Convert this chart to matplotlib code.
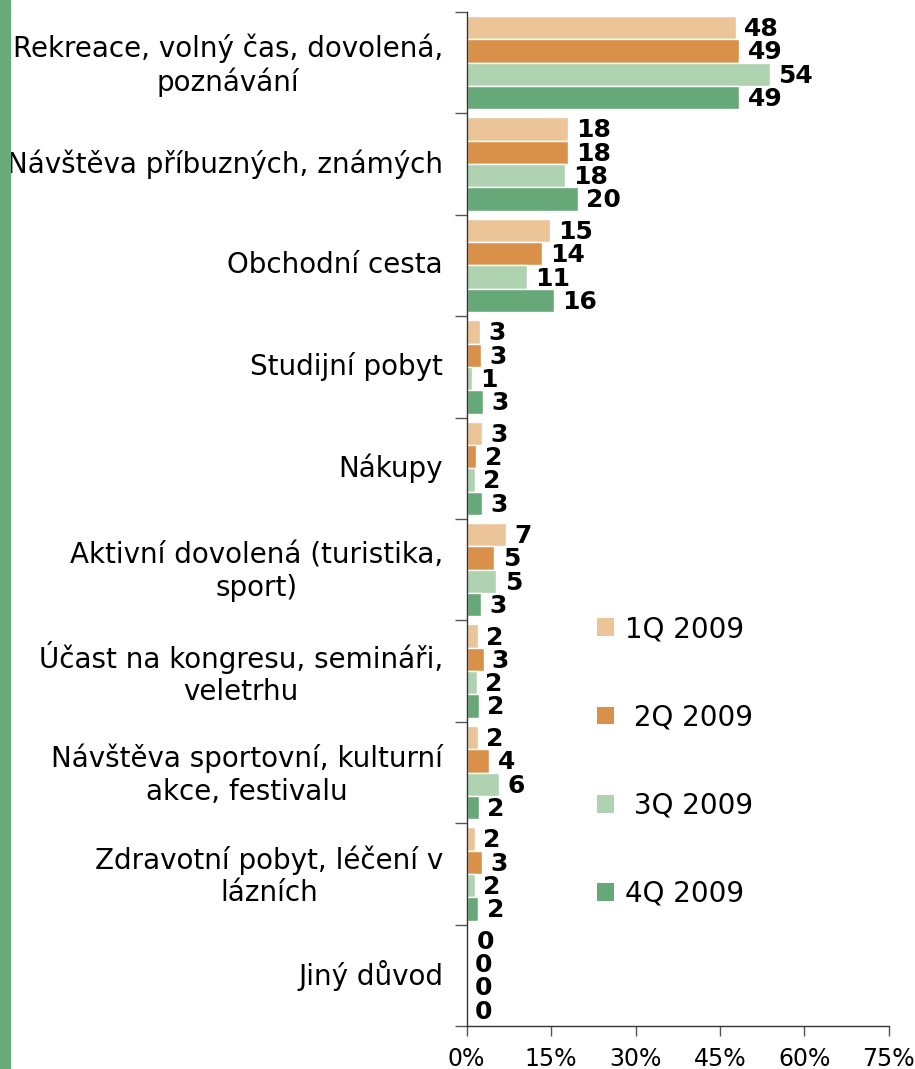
import matplotlib
matplotlib.use("Agg")
import matplotlib.pyplot as plt
import numpy as np
from matplotlib.patches import Rectangle, Patch

# categories and values (% of trips)
categories = [
    "Rekreace, volný čas, dovolená,\npoznávání",
    "Návštěva příbuzných, známých",
    "Obchodní cesta",
    "Studijní pobyt",
    "Nákupy",
    "Aktivní dovolená (turistika,\nsport)",
    "Účast na kongresu, semináři,\nveletrhu",
    "Návštěva sportovní, kulturní\nakce, festivalu",
    "Zdravotní pobyt, léčení v\nlázních",
    "Jiný důvod",
]
series_names = ["1Q 2009", " 2Q 2009", " 3Q 2009", "4Q 2009"]
q1 = [47.8, 18.0, 14.8, 2.4, 2.8, 7.0, 2.0, 2.0, 1.5, 0.3]
q2 = [48.4, 18.0, 13.4, 2.6, 1.7, 4.9, 3.0, 4.0, 2.8, 0.0]
q3 = [53.9, 17.4, 10.7, 0.9, 1.4, 5.3, 1.8, 5.7, 1.4, 0.0]
q4 = [48.4, 19.7, 15.5, 2.9, 2.8, 2.6, 2.2, 2.2, 2.1, 0.0]
q1_labels = [48, 18, 15, 3, 3, 7, 2, 2, 2, 0]
q2_labels = [49, 18, 14, 3, 2, 5, 3, 4, 3, 0]
q3_labels = [54, 18, 11, 1, 2, 5, 2, 6, 2, 0]
q4_labels = [49, 20, 16, 3, 3, 3, 2, 2, 2, 0]
xticks = [0, 15, 30, 45, 60, 75]

colors = ["#ebc598", "#d9914a", "#afd2b1", "#67a878"]

fig = plt.figure(figsize=(9.15, 10.69), dpi=100)
ax = fig.add_axes([0.510, 0.0402, 0.4615, 0.9486])

# green strip on the left edge
fig.patches.append(Rectangle((0, 0), 10 / 915, 1, transform=fig.transFigure,
                             color="#6aaa7a", zorder=0))

y = np.arange(len(categories))
h = 0.23
all_vals = [q1, q2, q3, q4]
all_labels = [q1_labels, q2_labels, q3_labels, q4_labels]
for i, (vals, labs) in enumerate(zip(all_vals, all_labels)):
    pos = y + (i - 1.5) * h
    ax.barh(pos, vals, height=h, color=colors[i], edgecolor="white",
            linewidth=1, label=series_names[i])
    for p, v, lab in zip(pos, vals, labs):
        ax.annotate(str(lab), (v, p), xytext=(6, -1), textcoords="offset points",
                    ha="left", va="center", fontsize=18, fontweight="bold",
                    color="black")

ax.set_ylim(len(categories) - 0.5, -0.5)
ax.set_xlim(0, 75)

ax.set_yticks(np.arange(-0.5, len(categories)), labels=[])
# category labels sit a touch above the group centre
ax.set_yticks(y - 0.03, labels=categories, minor=True)
ax.tick_params(axis="y", which="major", length=9, width=1, color="#555555",
               direction="out")
ax.tick_params(axis="y", which="minor", length=0, pad=17, labelsize=20)
for t in ax.get_yticklabels(minor=True):
    t.set_multialignment("center")
    t.set_linespacing(1.2)

ax.set_xticks(xticks, labels=[f"{x}%" for x in xticks])
ax.tick_params(axis="x", length=7, width=1, color="#555555", labelsize=17, pad=8)

for s in ["top", "right"]:
    ax.spines[s].set_visible(False)
for s in ["left", "bottom"]:
    ax.spines[s].set_color("#333333")
    ax.spines[s].set_linewidth(1)

handles = [Patch(facecolor=c, edgecolor="none") for c in colors]
fig.legend(handles, series_names, loc="upper left",
           bbox_to_anchor=(0.625, 0.448), frameon=False, fontsize=20,
           handlelength=0.6, handleheight=0.6, handletextpad=0.4,
           labelspacing=2.17)

fig.savefig("out.png", dpi=100)
